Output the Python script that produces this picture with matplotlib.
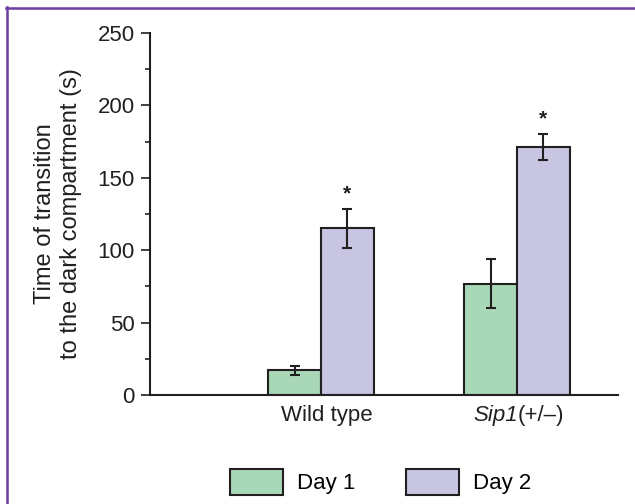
import matplotlib.pyplot as plt
import numpy as np
from matplotlib.lines import Line2D

plt.rcParams['font.family'] = ['Liberation Sans', 'DejaVu Sans']

# Data
groups = ['Wild type', 'Sip1']
group_suffix = ['', '(+/–)']
day1 = [17, 77]
day1_err = [3, 17]
day2 = [115, 171]
day2_err = [13.5, 9]
day2_sig = ['*', '*']

ink = '#231f20'
green = '#a8d8b8'
purple = '#c8c5e2'
fs = 16

fig = plt.figure(figsize=(6.35, 5.04), dpi=100)
ax = fig.add_axes([150/635, 109/504, 468/635, 362/504])

x = np.arange(len(groups))
w = 0.268
ax.bar(x - w/2, day1, w, color=green, edgecolor=ink, linewidth=1.5, label='Day 1', zorder=2)
ax.bar(x + w/2, day2, w, color=purple, edgecolor=ink, linewidth=1.5, label='Day 2', zorder=2)
ax.errorbar(x - w/2, day1, yerr=day1_err, fmt='none', ecolor=ink, elinewidth=1.5,
            capsize=3.6, capthick=1.5, zorder=3)
ax.errorbar(x + w/2, day2, yerr=day2_err, fmt='none', ecolor=ink, elinewidth=1.5,
            capsize=3.6, capthick=1.5, zorder=3)
for xi, v, e, s in zip(x, day2, day2_err, day2_sig):
    ax.text(xi + w/2, v + e + 4, s, ha='center', va='bottom', fontsize=15,
            fontweight='bold', color=ink)

ax.set_xlim(-0.872, 1.515)
ax.set_ylim(0, 250)
ax.set_yticks(np.arange(0, 251, 50))
ax.set_yticks(np.arange(25, 250, 50), minor=True)
ax.set_xticks([])
ax.tick_params(axis='y', which='major', length=6.5, width=1.2, pad=4.5, labelsize=fs,
               colors=ink)
ax.tick_params(axis='y', which='minor', length=3.5, width=1.2, colors=ink)
for side in ['top', 'right']:
    ax.spines[side].set_visible(False)
for side in ['left', 'bottom']:
    ax.spines[side].set_linewidth(1.5)
    ax.spines[side].set_color(ink)

# group labels: wild type plain, Sip1 italic + suffix
xt = ax.get_xaxis_transform()
ax.annotate(groups[0], xy=(x[0] + 0.03, 0), xycoords=xt, xytext=(0, -7),
            textcoords='offset points', ha='center', va='top', fontsize=fs, color=ink)
t1 = ax.annotate(groups[1], xy=(x[1] + 0.005, 0), xycoords=xt, xytext=(0, -7),
                 textcoords='offset points', ha='right', va='top', fontsize=fs,
                 style='italic', color=ink)
ax.annotate(group_suffix[1], xy=(1, 0), xycoords=t1, ha='left', va='bottom',
            fontsize=fs, color=ink)

ax.set_ylabel('Time of transition\nto the dark compartment (s)', fontsize=17,
              color=ink, linespacing=1.22, labelpad=11)

fig.legend(loc='center', bbox_to_anchor=(381/635, 22/504), ncol=2, frameon=False,
           fontsize=fs, handlelength=2.36, handleheight=1.42, handletextpad=0.65,
           columnspacing=2.28)

# purple frame
border = '#6b3fa0'
fig.add_artist(Line2D([6.5/635, 6.5/635], [0, 1 - 7/504], transform=fig.transFigure,
                      color=border, linewidth=1.8))
fig.add_artist(Line2D([5.6/635, 1], [1 - 7.5/504, 1 - 7.5/504], transform=fig.transFigure,
                      color=border, linewidth=1.8))

fig.savefig('out.png', dpi=100)
